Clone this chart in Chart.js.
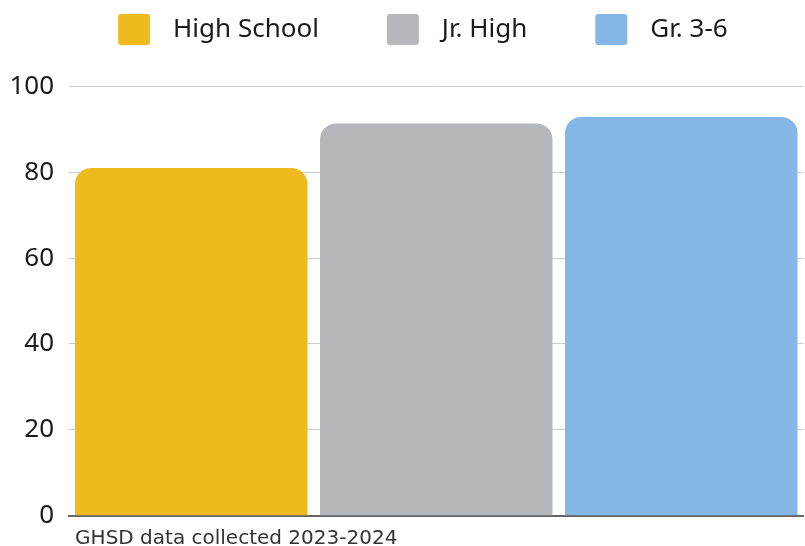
<!DOCTYPE html>
<html>
<head>
<meta charset="utf-8">
<script src="https://cdn.jsdelivr.net/npm/chart.js@4.4.2/dist/chart.umd.min.js"></script>
<style>
  html, body { margin: 0; padding: 0; background: #ffffff; }
  #chart { display: block; }
</style>
</head>
<body>
<canvas id="chart" width="805" height="546"></canvas>
<script>
const categories = ['GHSD data collected 2023-2024'];
const seriesNames = ['High School', 'Jr. High', 'Gr. 3-6'];
const seriesValues = [81, 91.4, 92.9];
const seriesColors = ['#EFBA1D', '#B6B7BB', '#84B7E5'];
const yTicks = [0, 20, 40, 60, 80, 100];

// legend swatch with blank room on the left, so the gaps match the picture
function swatch(color) {
  const c = document.createElement('canvas');
  c.width = 84;
  c.height = 31;
  const g = c.getContext('2d');
  g.fillStyle = color;
  g.beginPath();
  g.roundRect(42, 0, 32, 31, 3);
  g.fill();
  return c;
}
const swatches = seriesColors.map(swatch);

const legendGap = {
  id: 'legendGap',
  beforeInit(chart) {
    const fit = chart.legend.fit;
    chart.legend.fit = function () {
      fit.call(this);
      this.height += 34;
    };
  }
};

new Chart(document.getElementById('chart'), {
  type: 'bar',
  data: {
    labels: categories,
    datasets: seriesNames.map((name, i) => ({
      label: name,
      data: [seriesValues[i]],
      backgroundColor: seriesColors[i],
      borderRadius: { topLeft: 16, topRight: 16 },
      borderSkipped: 'start',
      barPercentage: 0.949,
      categoryPercentage: 1
    }))
  },
  options: {
    responsive: false,
    animation: false,
    devicePixelRatio: 1,
    layout: {
      padding: { left: 0, right: 1.25, top: -9.5, bottom: 0 }
    },
    plugins: {
      tooltip: { enabled: false },
      legend: {
        position: 'top',
        align: 'center',
        labels: {
          usePointStyle: true,
          pointStyleWidth: 84,
          padding: 26,
          color: '#1a1a1a',
          font: { family: "'Noto Sans', 'Open Sans', sans-serif", size: 26 },
          generateLabels: chart => Chart.defaults.plugins.legend.labels.generateLabels(chart)
            .map((item, i) => ({ ...item, pointStyle: swatches[i] }))
        }
      }
    },
    scales: {
      x: {
        grid: { display: false, drawTicks: false },
        border: { display: true, color: '#666666', width: 2 },
        ticks: { display: false },
        title: {
          display: true,
          text: ' ' + categories[0],
          align: 'start',
          color: '#333333',
          font: { family: "'DejaVu Sans', sans-serif", size: 20, lineHeight: 0.4 },
          padding: { top: 19, bottom: 0 }
        }
      },
      y: {
        min: 0,
        max: 100,
        afterFit(scale) { scale.width = 68.75; },
        afterBuildTicks(scale) { scale.ticks = yTicks.map(v => ({ value: v })); },
        grid: { color: '#cccccc', lineWidth: 1, drawTicks: false },
        border: { display: false },
        ticks: {
          padding: 14.75,
          color: '#1a1a1a',
          font: { family: "'Noto Sans', 'Open Sans', sans-serif", size: 26 }
        }
      }
    }
  },
  plugins: [legendGap]
});
</script>
</body>
</html>
